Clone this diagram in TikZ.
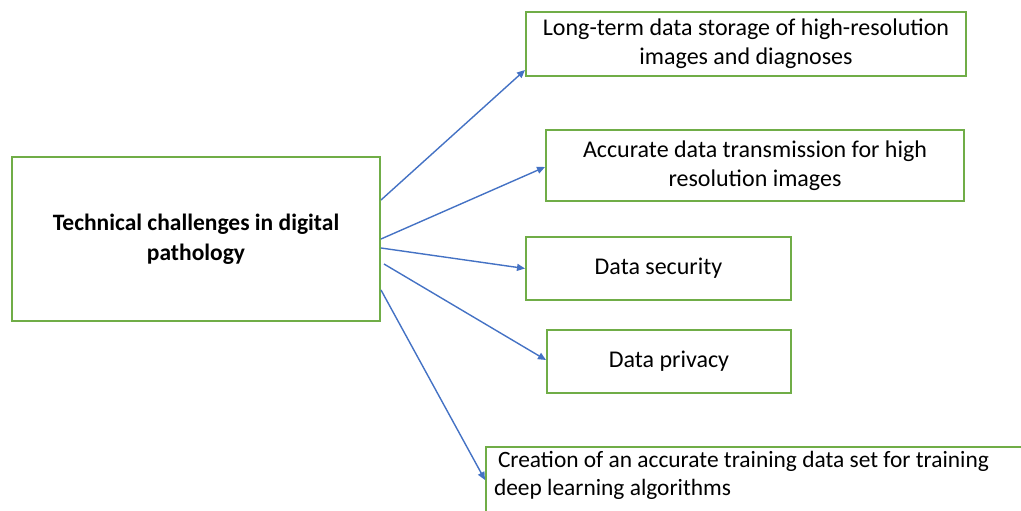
\documentclass[tikz,border=0pt]{standalone}
\usepackage{fontspec}
\setmainfont{Carlito}
\usetikzlibrary{arrows.meta}
\definecolor{boxgreen}{RGB}{112,173,71}
\definecolor{arrowblue}{RGB}{68,114,196}
\begin{document}
\begin{tikzpicture}[x=1pt,y=-1pt,
  box/.style={draw=boxgreen,line width=2pt,rectangle,align=center,inner sep=0pt,
    font=\fontsize{24}{29}\selectfont},
  conn/.style={draw=arrowblue,line width=1.4pt,-{Triangle[length=8pt,width=7pt]}}]
\useasboundingbox (0,0) rectangle (1021,511);
\node[box,minimum width=368pt,minimum height=164pt,font=\fontsize{23.5}{30}\selectfont\bfseries] (main) at (196,239) {Technical challenges in digital\\pathology};
\node[box,minimum width=440pt,minimum height=64pt] (b1) at (746,44) {Long-term data storage of high-resolution\\images and diagnoses};
\node[box,minimum width=418pt,minimum height=71pt] (b2) at (755,165.5) {Accurate data transmission for high\\resolution images};
\node[box,minimum width=265pt,minimum height=63pt] (b3) at (658.5,268.5) {Data security};
\node[box,minimum width=244pt,minimum height=63pt] (b4) at (669,361.5) {Data privacy};
\node[box,anchor=north west,align=flush left,text width=545pt,inner xsep=8pt,inner ysep=4pt,font=\fontsize{23.4}{28}\selectfont] (b5) at (485,446) {\hspace{4pt}Creation of an accurate training data set for training\\deep learning algorithms\rule[-30pt]{0pt}{30pt}};
\draw[conn] ([yshift=39pt]main.east) -- ([yshift=-26pt]b1.west);
\draw[conn] ([yshift=0pt]main.east) -- ([yshift=-1.5pt]b2.west);
\draw[conn] ([yshift=-9pt]main.east) -- (b3.west);
\draw[conn] ([xshift=3pt,yshift=-25pt]main.east) -- ([yshift=1.5pt]b4.west);
\draw[conn] ([yshift=-51pt]main.east) -- ([yshift=-34pt]b5.north west);
\end{tikzpicture}
\end{document}
